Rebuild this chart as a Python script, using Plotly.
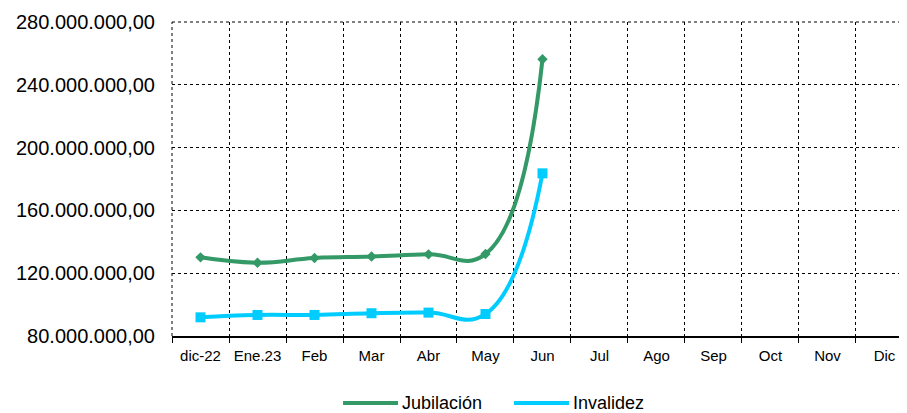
import plotly.graph_objects as go

meses = ["dic-22", "Ene.23", "Feb", "Mar", "Abr", "May", "Jun",
         "Jul", "Ago", "Sep", "Oct", "Nov", "Dic"]
meses_con_datos = meses[:7]
jubilacion = [130.1e6, 126.7e6, 129.7e6, 130.6e6, 132.0e6, 132.2e6, 256.3e6]
invalidez = [91.9e6, 93.4e6, 93.4e6, 94.5e6, 94.9e6, 94.0e6, 183.6e6]
y_ticks = [80e6, 120e6, 160e6, 200e6, 240e6, 280e6]
y_tick_text = ["80.000.000,00", "120.000.000,00", "160.000.000,00",
               "200.000.000,00", "240.000.000,00", "280.000.000,00"]

VERDE = "#339966"
CIAN = "#00CCFF"

fig = go.Figure()
fig.add_trace(go.Scatter(
    x=meses_con_datos, y=jubilacion, name="Jubilación",
    mode="lines+markers",
    line=dict(color=VERDE, width=4, shape="spline", smoothing=1.3),
    marker=dict(symbol="diamond", size=8, color=VERDE),
    showlegend=False,
))
fig.add_trace(go.Scatter(
    x=meses_con_datos, y=invalidez, name="Invalidez",
    mode="lines+markers",
    line=dict(color=CIAN, width=4, shape="spline", smoothing=1.3),
    marker=dict(symbol="square", size=10, color=CIAN),
    showlegend=False,
))

# custom legend (Excel style: long line sample with marker in the middle)
ly = -0.2134
shapes = [
    # left and top plot border (dotted like the grid)
    dict(type="line", xref="paper", yref="paper", x0=0, x1=0, y0=0, y1=1,
         line=dict(color="black", width=1, dash="dot"), layer="below"),
    dict(type="line", xref="paper", yref="paper", x0=0, x1=1, y0=1, y1=1,
         line=dict(color="black", width=1, dash="dot"), layer="below"),
]
legend_items = [
    ("Jubilación", VERDE, 0.2327, 0.3075, "diamond"),
    ("Invalidez", CIAN, 0.4653, 0.5401, "square"),
]
for name, color, x0, x1, sym in legend_items:
    shapes.append(dict(type="line", xref="paper", yref="paper",
                       x0=x0, x1=x1, y0=ly, y1=ly,
                       line=dict(color=color, width=4)))
fig.update_layout(shapes=shapes)
for name, color, x0, x1, sym in legend_items:
    fig.add_trace(go.Scatter(
        x=[(x0 + x1) / 2], y=[ly], xaxis="x2", yaxis="y2",
        mode="markers", marker=dict(symbol=sym, size=8 if sym == "square" else 7,
                                    color=color),
        showlegend=False, hoverinfo="skip", cliponaxis=False,
    ))
    fig.add_annotation(xref="paper", yref="paper", x=x1 + 0.003, y=ly,
                       text=name, showarrow=False, xanchor="left",
                       yanchor="middle", font=dict(size=18, color="black"))

# the page body adds an 8px offset, so the figure is 8px smaller
fig.update_layout(
    width=899, height=405,
    margin=dict(l=164, r=0, t=14, b=77),
    paper_bgcolor="white", plot_bgcolor="white",
    font=dict(family="Liberation Sans, Arial, sans-serif", color="black"),
    showlegend=False,
    xaxis2=dict(overlaying="x", range=[0, 1], visible=False, fixedrange=True),
    yaxis2=dict(overlaying="y", range=[0, 1], visible=False, fixedrange=True),
)
fig.update_layout(xaxis=dict(
    type="category", categoryorder="array", categoryarray=meses,
    range=[-0.5, 12.395], tickson="boundaries",
    showgrid=True, gridcolor="black", griddash="dot", gridwidth=1,
    showline=True, linecolor="black", linewidth=1.5,
    ticks="outside", ticklen=5, tickcolor="black",
    tickfont=dict(size=15), ticklabelstandoff=5,
    zeroline=False, fixedrange=True, automargin=False,
))
fig.update_layout(yaxis=dict(
    range=[80e6, 280e6], tickvals=y_ticks, ticktext=y_tick_text,
    showgrid=True, gridcolor="black", griddash="dot", gridwidth=1,
    tickfont=dict(size=20), ticklabelstandoff=16, zeroline=False,
    showline=False, automargin=False, fixedrange=True,
))

fig.write_html("out.html")
